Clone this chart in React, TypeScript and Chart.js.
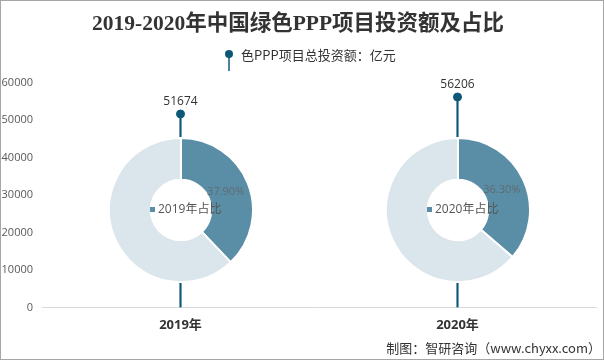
import React, { useEffect, useRef } from "react";
import { Chart, registerables } from "chart.js";

Chart.register(...registerables);

const categories = ["2019年", "2020年"];
const investment = [51674, 56206];
const shares = [37.9, 36.3];
const shareLabels = ["2019年占比", "2020年占比"];
const yTicks = [0, 10000, 20000, 30000, 40000, 50000, 60000];
const titleText = "2019-2020年中国绿色PPP项目投资额及占比";
const legendText = "色PPP项目总投资额：亿元";
const sourceText = "制图：智研咨询（www.chyxx.com）";

const DARK = "#0d5877";
const RING = "#5a8ea6";
const RING_LIGHT = "#dbe5ec";

export default function App() {
  const mainRef = useRef<HTMLCanvasElement>(null);
  const d0Ref = useRef<HTMLCanvasElement>(null);
  const d1Ref = useRef<HTMLCanvasElement>(null);
  const wrap0 = useRef<HTMLDivElement>(null);
  const wrap1 = useRef<HTMLDivElement>(null);

  useEffect(() => {
    document.body.style.margin = "0";

    const extras = {
      id: "extras",
      afterDatasetsDraw(chart: any) {
        const ctx = chart.ctx;
        const meta = chart.getDatasetMeta(1);
        ctx.save();
        ctx.font = '12px "Open Sans", "Noto Sans CJK SC", sans-serif';
        ctx.fillStyle = "#333";
        ctx.textAlign = "center";
        ctx.textBaseline = "bottom";
        meta.data.forEach((pt: any, i: number) => {
          ctx.fillText(String(investment[i]), pt.x, pt.y - 6);
        });
        ctx.restore();
      },
      afterDraw(chart: any) {
        const ctx = chart.ctx;
        ctx.save();
        // legend (lollipop marker + text)
        const lx = 229;
        const ly = 54;
        ctx.strokeStyle = DARK;
        ctx.lineWidth = 1.5;
        ctx.beginPath();
        ctx.moveTo(lx, ly);
        ctx.lineTo(lx, ly + 17);
        ctx.stroke();
        ctx.fillStyle = DARK;
        ctx.beginPath();
        ctx.arc(lx, ly, 4, 0, Math.PI * 2);
        ctx.fill();
        ctx.font = '13px "Noto Sans CJK SC", sans-serif';
        ctx.fillStyle = "#333";
        ctx.textAlign = "left";
        ctx.textBaseline = "middle";
        ctx.fillText(legendText, lx + 12, ly + 1);
        // source
        ctx.font = '13px "Noto Sans CJK SC", sans-serif';
        ctx.textAlign = "right";
        ctx.fillText(sourceText, 601, 348);
        ctx.strokeStyle = "#a6a6a6";
        ctx.lineWidth = 1;
        ctx.strokeRect(0.5, 0.5, 603, 359);
        ctx.restore();
      },
    };

    const main = new Chart(mainRef.current!, {
      data: {
        labels: categories,
        datasets: [
          {
            type: "bar",
            label: "stem",
            data: investment,
            backgroundColor: DARK,
            barThickness: 1.5,
            order: 2,
          },
          {
            type: "line",
            label: legendText,
            data: investment,
            showLine: false,
            pointRadius: 4,
            pointBackgroundColor: DARK,
            pointBorderColor: DARK,
            order: 1,
          } as any,
        ],
      },
      options: {
        responsive: false,
        animation: false,
        layout: { padding: { left: 0, right: 8, top: 0, bottom: 17 } },
        plugins: {
          title: {
            display: true,
            text: titleText,
            color: "#333",
            font: { family: '"Liberation Serif", "Noto Sans CJK SC", serif', size: 21.5, weight: "bold" },
            padding: { top: 12, bottom: 45 },
          },
          legend: { display: false },
          tooltip: { enabled: false },
        },
        scales: {
          x: {
            grid: { display: false, drawTicks: false },
            border: { display: true, color: "#d9d9d9" },
            ticks: {
              color: "#333",
              font: { family: '"Open Sans", "Noto Sans CJK SC", sans-serif', size: 13, weight: "bold" },
              padding: 10,
            },
          },
          y: {
            min: 0,
            max: 60000,
            grid: { display: false, drawTicks: false },
            border: { display: false },
            afterBuildTicks: (axis: any) => {
              axis.ticks = yTicks.map((v) => ({ value: v }));
            },
            afterFit: (axis: any) => {
              axis.width = 42;
            },
            ticks: {
              color: "#595959",
              font: { family: '"Open Sans", sans-serif', size: 11 },
              padding: 9,
              callback: (v: any) => String(v),
            },
          },
        },
      } as any,
      plugins: [extras],
    });

    // position doughnuts at category centers
    const xs = main.scales.x as any;
    const ys = main.scales.y as any;
    const R = 73;
    const cy = ys.getPixelForValue(26000);
    [wrap0, wrap1].forEach((w, i) => {
      const cx = xs.getPixelForValue(i);
      if (w.current) {
        w.current.style.left = `${cx - R}px`;
        w.current.style.top = `${cy - R}px`;
      }
    });

    const makeDonut = (canvas: HTMLCanvasElement, i: number) => {
      const labelPlugin = {
        id: "donutLabels" + i,
        beforeDatasetsDraw(chart: any) {
          const arc = chart.getDatasetMeta(0).data[0];
          const ctx = chart.ctx;
          ctx.save();
          ctx.fillStyle = "#fff";
          ctx.beginPath();
          ctx.arc(arc.x, arc.y, arc.outerRadius, 0, Math.PI * 2);
          ctx.fill();
          ctx.restore();
        },
        afterDraw(chart: any) {
          const ctx = chart.ctx;
          const arc = chart.getDatasetMeta(0).data[0];
          const mid = (arc.startAngle + arc.endAngle) / 2;
          const r = (arc.innerRadius + arc.outerRadius) / 2 - 3;
          ctx.save();
          ctx.font = '11px "Open Sans", sans-serif';
          ctx.fillStyle = "#5f6b73";
          ctx.textAlign = "center";
          ctx.textBaseline = "middle";
          ctx.fillText(shares[i].toFixed(2) + "%", arc.x + Math.cos(mid) * r, arc.y + Math.sin(mid) * r);
          ctx.font = '12px "Open Sans", "Noto Sans CJK SC", sans-serif';
          ctx.fillStyle = RING;
          ctx.fillRect(arc.x - 31, arc.y - 3, 5, 5);
          ctx.fillStyle = "#555";
          ctx.textAlign = "left";
          ctx.fillText(shareLabels[i], arc.x - 23, arc.y);
          ctx.restore();
        },
      };
      return new Chart(canvas, {
        type: "doughnut",
        data: {
          labels: [shareLabels[i], "其他"],
          datasets: [
            {
              data: [shares[i], 100 - shares[i]],
              backgroundColor: [RING, RING_LIGHT],
              borderColor: "#fff",
              borderWidth: 2,
            },
          ],
        },
        options: {
          responsive: false,
          animation: false,
          cutout: "42%",
          layout: { padding: 0 },
          plugins: { legend: { display: false }, tooltip: { enabled: false }, title: { display: false } },
        } as any,
        plugins: [labelPlugin],
      });
    };
    const d0 = makeDonut(d0Ref.current!, 0);
    const d1 = makeDonut(d1Ref.current!, 1);

    return () => {
      d0.destroy();
      d1.destroy();
      main.destroy();
    };
  }, []);

  return (
    <div style={{ position: "relative", width: 604, height: 360, background: "#fff" }}>
      <canvas ref={mainRef} width={604} height={360} style={{ position: "absolute", left: 0, top: 0 }} />
      <div ref={wrap0} style={{ position: "absolute", width: 146, height: 146 }}>
        <canvas ref={d0Ref} width={146} height={146} />
      </div>
      <div ref={wrap1} style={{ position: "absolute", width: 146, height: 146 }}>
        <canvas ref={d1Ref} width={146} height={146} />
      </div>
    </div>
  );
}
